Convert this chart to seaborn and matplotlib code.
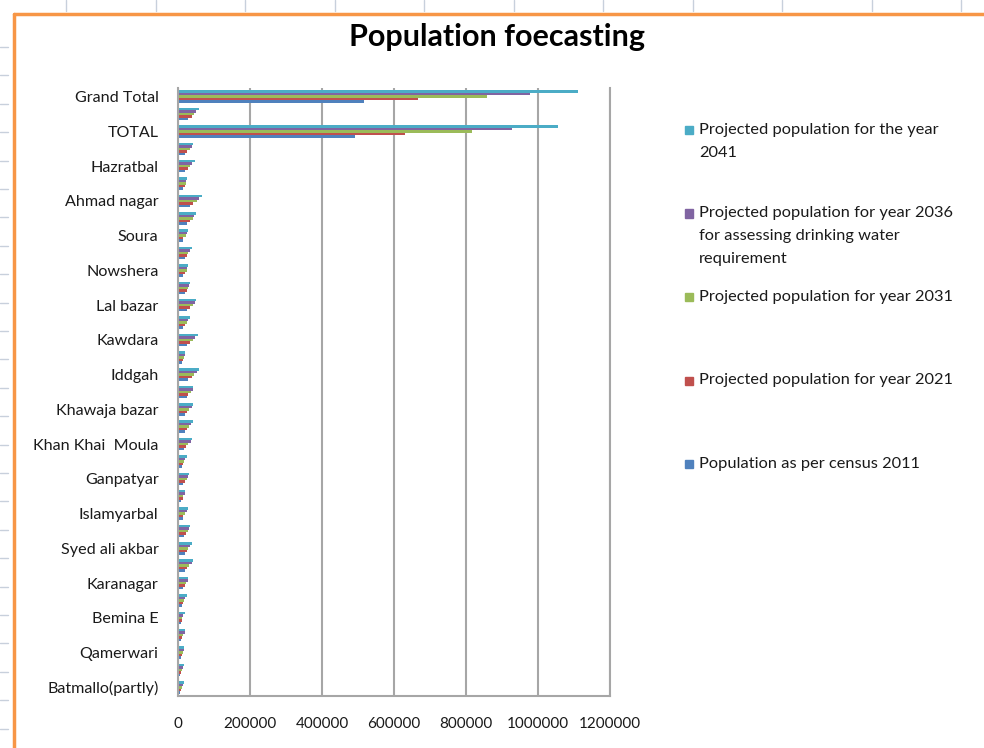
import matplotlib
matplotlib.use("Agg")
import matplotlib.pyplot as plt
import pandas as pd
import seaborn as sns
from matplotlib.lines import Line2D
from matplotlib.patches import Rectangle

# Wards listed top to bottom as they appear on the chart
areas = [
    "Grand Total", "Cantonment area", "TOTAL", "Zadibal", "Hazratbal",
    "Alamgari bazar", "Ahmad nagar", "Buchpora", "Soura", "Jamia Masjid",
    "Nowshera", "Rainawari", "Lal bazar", "Nawab bazar", "Kawdara",
    "Safa Kadal", "Iddgah", "Chattabal", "Khawaja bazar", "Nowhatta",
    "Khan Khai  Moula", "Habba Kadal", "Ganpatyar", "Kralkhud", "Islamyarbal",
    "Zaindar Mohalla", "Syed ali akbar", "Shaheed Gunj", "Karanagar", "Bemina W",
    "Bemina E", "Rawalpora", "Qamerwari", "Parimpora", "Batmallo(partly)",
]

pop_2011 = [517000, 28000, 492000, 19000, 19000, 14000, 33000, 25000, 14000, 19000,
            14000, 19000, 25000, 14000, 25000, 11000, 28000, 25000, 19000, 19000,
            17000, 11000, 14000, 8000, 14000, 17000, 19000, 19000, 14000, 11000,
            7000, 8000, 8000, 6000, 6000]
pop_2021 = [667000, 39000, 631000, 25000, 28000, 19000, 42000, 33000, 14000, 25000,
            19000, 25000, 33000, 19000, 33000, 14000, 39000, 28000, 25000, 25000,
            22000, 14000, 19000, 14000, 14000, 22000, 25000, 25000, 19000, 14000,
            11000, 11000, 11000, 8000, 8000]
pop_2031 = [858000, 44000, 817000, 33000, 33000, 22000, 53000, 42000, 22000, 28000,
            25000, 28000, 42000, 25000, 42000, 17000, 44000, 36000, 31000, 31000,
            28000, 17000, 25000, 14000, 19000, 28000, 28000, 31000, 22000, 17000,
            12000, 14000, 14000, 11000, 11000]
pop_2036 = [978000, 50000, 928000, 39000, 39000, 22000, 58000, 44000, 25000, 33000,
            25000, 31000, 47000, 28000, 47000, 19000, 53000, 42000, 39000, 36000,
            36000, 19000, 28000, 19000, 25000, 31000, 33000, 39000, 28000, 19000,
            14000, 19000, 17000, 14000, 14000]
pop_2041 = [1111000, 58000, 1056000, 42000, 47000, 25000, 67000, 50000, 28000, 39000,
            28000, 33000, 50000, 33000, 56000, 19000, 58000, 42000, 42000, 42000,
            39000, 25000, 31000, 19000, 28000, 33000, 39000, 42000, 28000, 25000,
            19000, 19000, 17000, 17000, 17000]

series_names = [
    "Projected population for the year\n2041",
    "Projected population for year 2036\nfor assessing drinking water\nrequirement",
    "Projected population for year 2031",
    "Projected population for year 2021",
    "Population as per census 2011",
]
series_colors = ["#4BACC6", "#8064A2", "#9BBB59", "#C0504D", "#4F81BD"]
x_ticks = [0, 200000, 400000, 600000, 800000, 1000000, 1200000]

wide = pd.DataFrame({
    "Area": areas,
    series_names[0]: pop_2041,
    series_names[1]: pop_2036,
    series_names[2]: pop_2031,
    series_names[3]: pop_2021,
    series_names[4]: pop_2011,
})
long = wide.melt(id_vars="Area", var_name="Series", value_name="Population")

sns.set_theme(style="white")
plt.rcParams["font.family"] = ["Lato", "DejaVu Sans"]

W, H = 984, 748
fig = plt.figure(figsize=(W / 100, H / 100), dpi=100)
fig.patch.set_facecolor("white")

def fx(px):
    return px / W

def fy(py):
    return 1 - py / H

ax = fig.add_axes([fx(178), fy(696), fx(610) - fx(178), fy(88) - fy(696)])
sns.barplot(
    data=long, y="Area", x="Population", hue="Series",
    order=areas, hue_order=series_names,
    palette=dict(zip(series_names, series_colors)),
    orient="h", width=0.72, gap=0, saturation=1,
    errorbar=None, legend=False, ax=ax, linewidth=0,
)

grid_col = "#A6A6A6"
ax.set_xlim(0, 1200000)
ax.set_xticks(x_ticks)
ax.set_xticklabels([str(v) for v in x_ticks])
ax.grid(axis="x", color=grid_col, linewidth=1.5)
ax.grid(axis="y", visible=False)
ax.set_axisbelow(True)
ax.spines["top"].set_visible(False)
for side in ["left", "bottom", "right"]:
    ax.spines[side].set_color(grid_col)
    ax.spines[side].set_linewidth(1.5)

ax.set_yticks(range(len(areas)))
ax.set_yticklabels([a if i % 2 == 0 else "" for i, a in enumerate(areas)])
ax.set_xlabel("")
ax.set_ylabel("")
ax.tick_params(axis="y", length=0, pad=14, labelsize=11.6, labelcolor="#1a1a1a")
ax.tick_params(axis="x", length=0, pad=15, labelsize=11, labelcolor="#1a1a1a")

# Title
fig.text(fx(497), fy(37), "Population foecasting", ha="center", va="center",
         fontsize=22, fontweight="bold", color="black")

# Legend, drawn beside the plot
for i, (name, col) in enumerate(zip(series_names, series_colors)):
    my = 130 + 83.5 * i
    fig.patches.append(Rectangle((fx(685), fy(my + 4)), fx(8), 8 / H,
                                 transform=fig.transFigure, color=col))
    fig.text(fx(699), fy(my - 7), name, ha="left", va="top", fontsize=11.8,
             color="#1a1a1a", linespacing=1.78)

# Chart area border
border = "#F79646"
fig.lines.append(Line2D([fx(14), fx(14)], [fy(14), 0], transform=fig.transFigure,
                        color=border, linewidth=2.5))
fig.lines.append(Line2D([fx(14), 1], [fy(14), fy(14)], transform=fig.transFigure,
                        color=border, linewidth=2.5))

# Sheet grid marks around the chart area
sheet = "#C8D0DC"
for k in range(11):
    x = 66 + 89.5 * k
    fig.lines.append(Line2D([fx(x), fx(x)], [fy(0), fy(11)], transform=fig.transFigure,
                            color=sheet, linewidth=1))
for k in range(25):
    y = 47 + 28.4 * k
    fig.lines.append(Line2D([0, fx(8)], [fy(y), fy(y)], transform=fig.transFigure,
                            color=sheet, linewidth=1))

fig.savefig("out.png", dpi=100, facecolor="white")
